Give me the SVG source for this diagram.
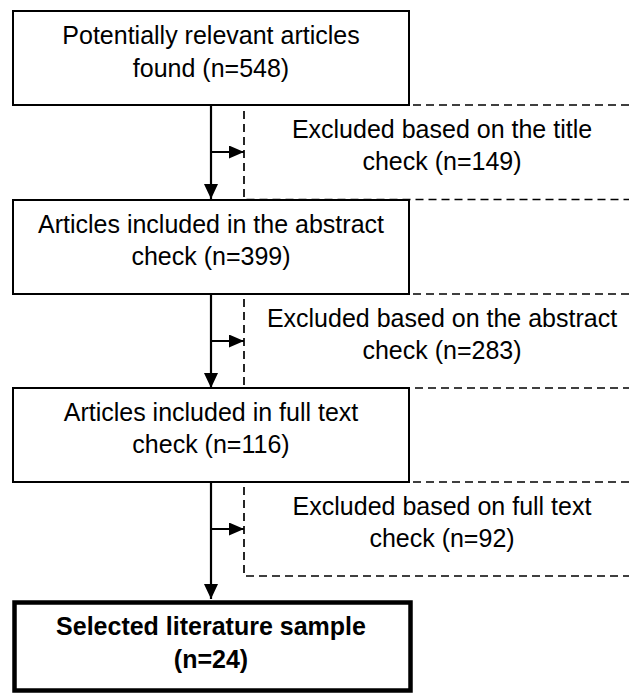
<svg xmlns="http://www.w3.org/2000/svg" width="629" height="695" viewBox="0 0 629 695">
  <style>
    .box { fill: #ffffff; stroke: #000000; stroke-width: 2; }
    .final { fill: #ffffff; stroke: #000000; stroke-width: 4.5; }
    .dash { fill: none; stroke: #000000; stroke-width: 1.7; stroke-dasharray: 8 5; }
    .conn { fill: none; stroke: #000000; stroke-width: 2.2; }
    text { font-family: "Liberation Sans", Arial, sans-serif; font-size: 25px; fill: #000000; text-anchor: middle; }
    .bold { font-weight: bold; }
  </style>
  <defs>
    <marker id="arrowDown" markerUnits="userSpaceOnUse" markerWidth="14" markerHeight="15" refX="15" refY="7" orient="auto">
      <path d="M0,0 L15,7 L0,14 z" fill="#000000"/>
    </marker>
    <marker id="arrowSide" markerUnits="userSpaceOnUse" markerWidth="15" markerHeight="13" refX="15" refY="6.5" orient="auto">
      <path d="M0,0 L15,6.5 L0,13 z" fill="#000000"/>
    </marker>
  </defs>
  <rect x="0" y="0" width="629" height="695" fill="#ffffff"/>

  <!-- exclusion boxes (dashed) -->
  <g id="excl1">
    <rect class="dash" x="244" y="105" width="400" height="94.5"/>
    <text x="442" y="137.5">Excluded based on the title</text>
    <text x="442" y="170">check (n=149)</text>
  </g>
  <g id="excl2">
    <rect class="dash" x="244" y="294" width="400" height="94"/>
    <text x="442" y="326.7">Excluded based on the abstract</text>
    <text x="442" y="359.3">check (n=283)</text>
  </g>
  <g id="excl3">
    <rect class="dash" x="244" y="482" width="400" height="94"/>
    <text x="442" y="514.7">Excluded based on full text</text>
    <text x="442" y="547.3">check (n=92)</text>
  </g>

  <!-- main boxes -->
  <g id="found">
    <rect class="box" x="13" y="11" width="396" height="94"/>
    <text x="211" y="44">Potentially relevant articles</text>
    <text x="211" y="76.5">found (n=548)</text>
  </g>
  <g id="abstract">
    <rect class="box" x="13" y="200" width="396" height="94"/>
    <text x="211" y="232.7">Articles included in the abstract</text>
    <text x="211" y="265.3">check (n=399)</text>
  </g>
  <g id="fulltext">
    <rect class="box" x="13" y="388" width="396" height="94"/>
    <text x="211" y="420.7">Articles included in full text</text>
    <text x="211" y="453.3">check (n=116)</text>
  </g>
  <g id="selected">
    <rect class="final" x="14.5" y="602.5" width="396" height="88"/>
    <text class="bold" x="211" y="635">Selected literature sample</text>
    <text class="bold" x="211" y="667.5">(n=24)</text>
  </g>

  <!-- connectors -->
  <g id="connectors">
    <line class="conn" x1="211" y1="105" x2="211" y2="199" marker-end="url(#arrowDown)"/>
    <line class="conn" x1="211" y1="152" x2="244" y2="152" marker-end="url(#arrowSide)"/>
    <line class="conn" x1="211" y1="294" x2="211" y2="388" marker-end="url(#arrowDown)"/>
    <line class="conn" x1="211" y1="341" x2="244" y2="341" marker-end="url(#arrowSide)"/>
    <line class="conn" x1="211" y1="482" x2="211" y2="599" marker-end="url(#arrowDown)"/>
    <line class="conn" x1="211" y1="529" x2="244" y2="529" marker-end="url(#arrowSide)"/>
  </g>
</svg>
